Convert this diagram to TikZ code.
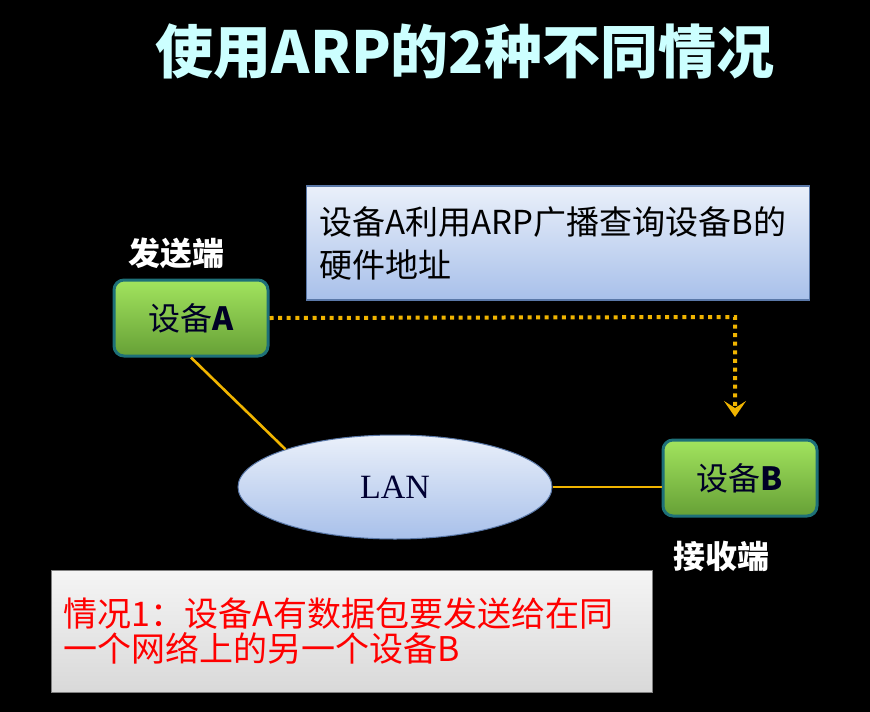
\documentclass[tikz,border=0pt]{standalone}
\usepackage{fontspec}
\setmainfont{Liberation Serif}
\newfontfamily\cjk{Noto Sans CJK SC}
\usetikzlibrary{shapes.geometric,arrows.meta}

\definecolor{titlecol}{HTML}{CCFFFF}
\definecolor{linkcol}{HTML}{F0B400}
\definecolor{devborder}{HTML}{1E7078}
\definecolor{devtop}{HTML}{A2E45E}
\definecolor{devbot}{HTML}{66A036}
\definecolor{skytop}{HTML}{EAF0FA}
\definecolor{skybot}{HTML}{A8C0EA}
\definecolor{skyline}{HTML}{5A78A8}

\tikzset{
  device/.style={draw=devborder, line width=3pt, rounded corners=10pt,
    top color=devtop, bottom color=devbot, minimum width=154pt, minimum height=76pt,
    font=\cjk\fontsize{32}{36}\selectfont, text=black!85!blue},
  side/.style={text=white, font=\cjk\bfseries\fontsize{32}{36}\selectfont},
  link/.style={linkcol, line width=2.6pt},
}

\begin{document}
\begin{tikzpicture}[x=1pt,y=-1pt]
    \fill[black] (0,0) rectangle (870,712);
    \useasboundingbox (0,0) rectangle (870,712);
    % title
    \node[text=titlecol, font=\cjk\bfseries\fontsize{58}{62}\selectfont] (title) at (465,52) {使用ARP的2种不同情况};
    % devices
    \node[device] (devA) at (191,318) {设备\textbf{A}};
    \node[device] (devB) at (740,478) {设备\textbf{B}};
    \node[side] (send) at (176,253) {发送端};
    \node[side] (recv) at (721,556) {接收端};
    % network
    \node[ellipse, draw=skyline, line width=1pt, top color=skytop, bottom color=skybot,
          minimum width=314pt, minimum height=104pt, font=\fontsize{34}{38}\selectfont, text=blue!20!black] (lan) at (395,487) {LAN};
    % notes
    \node[draw=skyline, line width=1.5pt, top color=skytop, bottom color=skybot,
          minimum width=503pt, minimum height=114pt, text width=477pt, align=left,
          font=\cjk\fontsize{33}{43}\selectfont] (query) at (558,243) {设备A利用ARP广播查询设备B的\\硬件地址};
    \node[draw=gray, line width=1pt, top color=gray!8, bottom color=gray!30,
          minimum width=601pt, minimum height=122pt, text width=577pt, align=left, text=red,
          font=\cjk\fontsize{34}{35}\selectfont] (case) at (352,631) {情况1：设备A有数据包要发送给在同\\一个网络上的另一个设备B\\[10pt]};
    % links
    \draw[link] (devA.south) -- (lan.161);
    \draw[link] (lan.east) -- (lan.east -| devB.west);
    \coordinate (turn) at (735,317);
    \coordinate (hit) at (735,417);
    \draw[linkcol, line width=4pt, dash pattern=on 4pt off 4.6pt, -{Stealth[length=16pt,width=22pt,inset=7pt]}]
        (devA.east) -- (turn) -- (hit);
\end{tikzpicture}
\end{document}
